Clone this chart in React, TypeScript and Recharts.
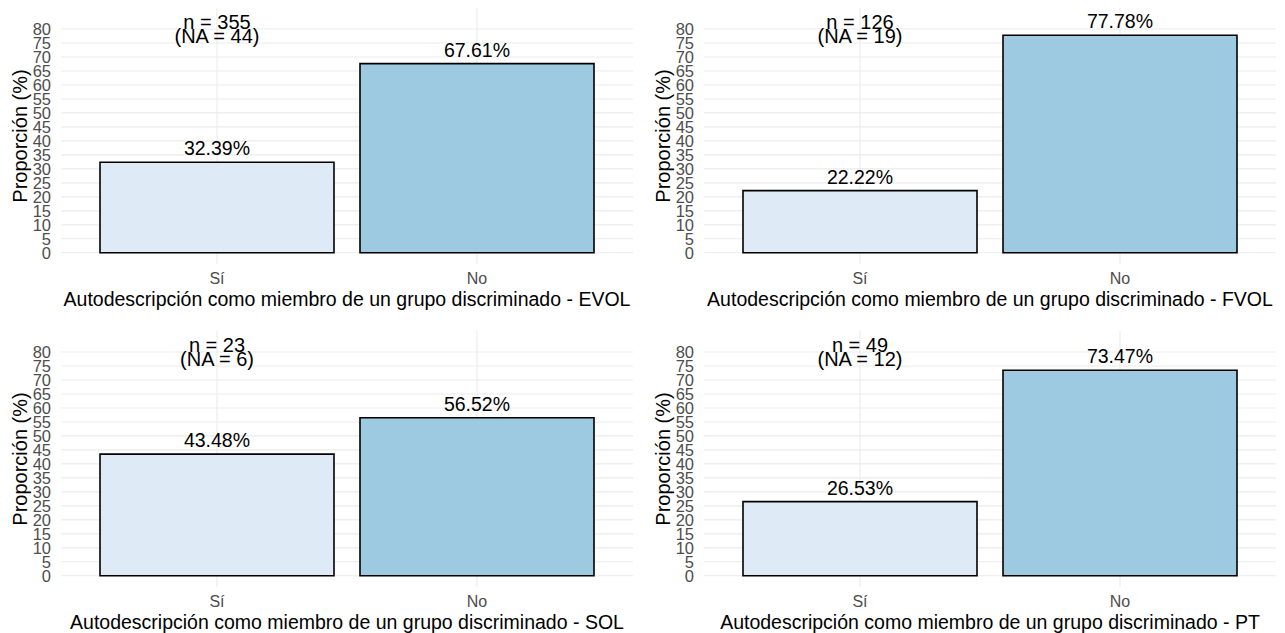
import React from "react";
import { Bar, BarChart, CartesianGrid, Cell, LabelList, ReferenceDot, XAxis, YAxis } from "recharts";

const groups = ["EVOL", "FVOL", "SOL", "PT"];
const categories = ["Sí", "No"];
const siValues = [32.39, 22.22, 43.48, 26.53];
const noValues = [67.61, 77.78, 56.52, 73.47];
const nValues = [355, 126, 23, 49];
const naValues = [44, 19, 6, 12];
const yTicks = [0, 5, 10, 15, 20, 25, 30, 35, 40, 45, 50, 55, 60, 65, 70, 75, 80];
const annotationY = 80;

const fills = ["#deebf7", "#9ecae1"];
const font = "'Liberation Sans', Arial, sans-serif";

const PANEL_W = 642;
const PANEL_H = 316;

function Panel({ index }: { index: number }) {
  const data = categories.map((name, i) => ({
    name,
    value: i === 0 ? siValues[index] : noValues[index],
  }));

  // two-line "n / NA" annotation above the first bar
  const renderCount = (props: any) => {
    const { viewBox } = props;
    const cx = viewBox.x + viewBox.width / 2;
    const cy = viewBox.y + viewBox.height / 2;
    return (
      <text x={cx} y={cy} textAnchor="middle" fontSize={20} fill="#000" fontFamily={font}>
        <tspan x={cx} y={cy}>n = {nValues[index]}</tspan>
        <tspan x={cx} y={cy + 14.5}>(NA = {naValues[index]})</tspan>
      </text>
    );
  };

  return (
    <BarChart
      width={PANEL_W}
      height={PANEL_H}
      data={data}
      margin={{ top: 8, right: 9, bottom: 0, left: 0 }}
      style={{ fontFamily: font }}
    >
      <CartesianGrid stroke="#ebebeb" strokeWidth={1.1} syncWithTicks />
      <XAxis
        dataKey="name"
        padding={{ left: 26, right: 26 }}
        axisLine={false}
        tickLine={false}
        tickSize={0}
        tickMargin={9}
        height={52}
        tick={{ fill: "#4d4d4d", fontSize: 16 }}
        label={{
          value: `Autodescripción como miembro de un grupo discriminado - ${groups[index]}`,
          position: "insideBottom",
          offset: 10,
          fill: "#000",
          fontSize: 19.5,
        }}
      />
      <YAxis
        type="number"
        domain={[-4, 87.5]}
        ticks={yTicks}
        interval={0}
        width={61}
        axisLine={false}
        tickLine={false}
        tickSize={0}
        tickMargin={10}
        tick={{ fill: "#4d4d4d", fontSize: 16.5 }}
        label={{
          value: "Proporción (%)",
          angle: -90,
          position: "center",
          dx: -11,
          fill: "#000",
          fontSize: 20,
        }}
      />
      <Bar dataKey="value" barSize={234} stroke="#000" strokeWidth={1.6} isAnimationActive={false}>
        {data.map((d, i) => (
          <Cell key={d.name} fill={fills[i]} />
        ))}
        <LabelList
          dataKey="value"
          position="top"
          offset={7}
          fill="#000"
          fontSize={19.5}
          formatter={(v: any) => `${Number(v).toFixed(2)}%`}
        />
      </Bar>
      <ReferenceDot
        x={categories[0]}
        y={annotationY}
        r={1}
        fill="none"
        stroke="none"
        label={{ content: renderCount }}
      />
    </BarChart>
  );
}

export default function App() {
  const positions = [
    { left: 0, top: 0 },
    { left: 643, top: 0 },
    { left: 0, top: 323 },
    { left: 643, top: 323 },
  ];
  return (
    <div
      style={{
        position: "absolute",
        left: 0,
        top: 0,
        width: 1285,
        height: 633,
        overflow: "hidden",
        background: "#fff",
        fontFamily: font,
      }}
    >
      {positions.map((p, i) => (
        <div key={groups[i]} style={{ position: "absolute", left: p.left, top: p.top, width: PANEL_W, height: PANEL_H }}>
          <Panel index={i} />
        </div>
      ))}
    </div>
  );
}
